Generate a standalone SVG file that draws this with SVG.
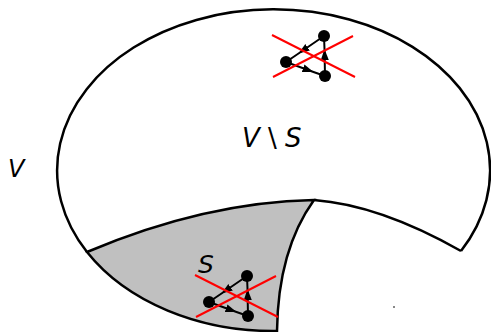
<svg xmlns="http://www.w3.org/2000/svg" width="491" height="332" viewBox="0 0 491 332">
<style>
.outline{fill:none;stroke:#000;stroke-width:2.5;stroke-linejoin:miter}
.gray{fill:#c0c0c0;stroke:#000;stroke-width:2.5}
.lbl{font-family:"DejaVu Sans",sans-serif;font-style:italic;fill:#000}
.up{font-style:normal}
.edge{fill:none;stroke:#000;stroke-width:2}
.node{fill:#000}
.cross{stroke:#ff0000;stroke-width:2;fill:none}
</style>
<defs>
<marker id="ah" markerUnits="userSpaceOnUse" markerWidth="12" markerHeight="10" refX="11" refY="4.5" orient="auto">
<path d="M0,0.5 L11,4.5 L0,8.5 z" fill="#000"/>
</marker>
<g id="glyph">
<g class="edges">
<path class="edge" d="M324,36 L298.5,53.5 L286,62" marker-mid="url(#ah)"/>
<path class="edge" d="M286,62 L313.5,72 L325,76" marker-mid="url(#ah)"/>
<path class="edge" d="M325,76 L324.5,49 L324,36" marker-mid="url(#ah)"/>
</g>
<circle class="node" cx="324" cy="36" r="6"/>
<circle class="node" cx="286" cy="62" r="6"/>
<circle class="node" cx="325" cy="76" r="6"/>
<line class="cross" x1="272" y1="35" x2="355" y2="77"/>
<line class="cross" x1="273" y1="77" x2="353" y2="36"/>
</g>
</defs>
<g id="region-V-minus-S">
<path class="outline" d="M461,251 A216.5,161 0 1 0 87,252"/>
<path class="outline" d="M314,200 Q380,205 461,251"/>
</g>
<g id="region-S">
<path class="gray" d="M87,252 A216.5,161 0 0 0 277,331 Q278,250 314,200 Q205,202 87,252 Z"/>
</g>
<g id="label-V"><text class="lbl" x="8" y="177" font-size="24">V</text></g>
<g id="label-VminusS"><text class="lbl" x="242" y="147" font-size="26">V <tspan class="up">\</tspan> S</text></g>
<g id="label-S"><text class="lbl" x="198" y="273" font-size="25">S</text></g>
<g id="graph-top"><use href="#glyph"/></g>
<g id="graph-bottom"><use href="#glyph" transform="translate(-77,240)"/></g>
<rect x="393" y="306" width="2" height="2" fill="#888"/>
</svg>
